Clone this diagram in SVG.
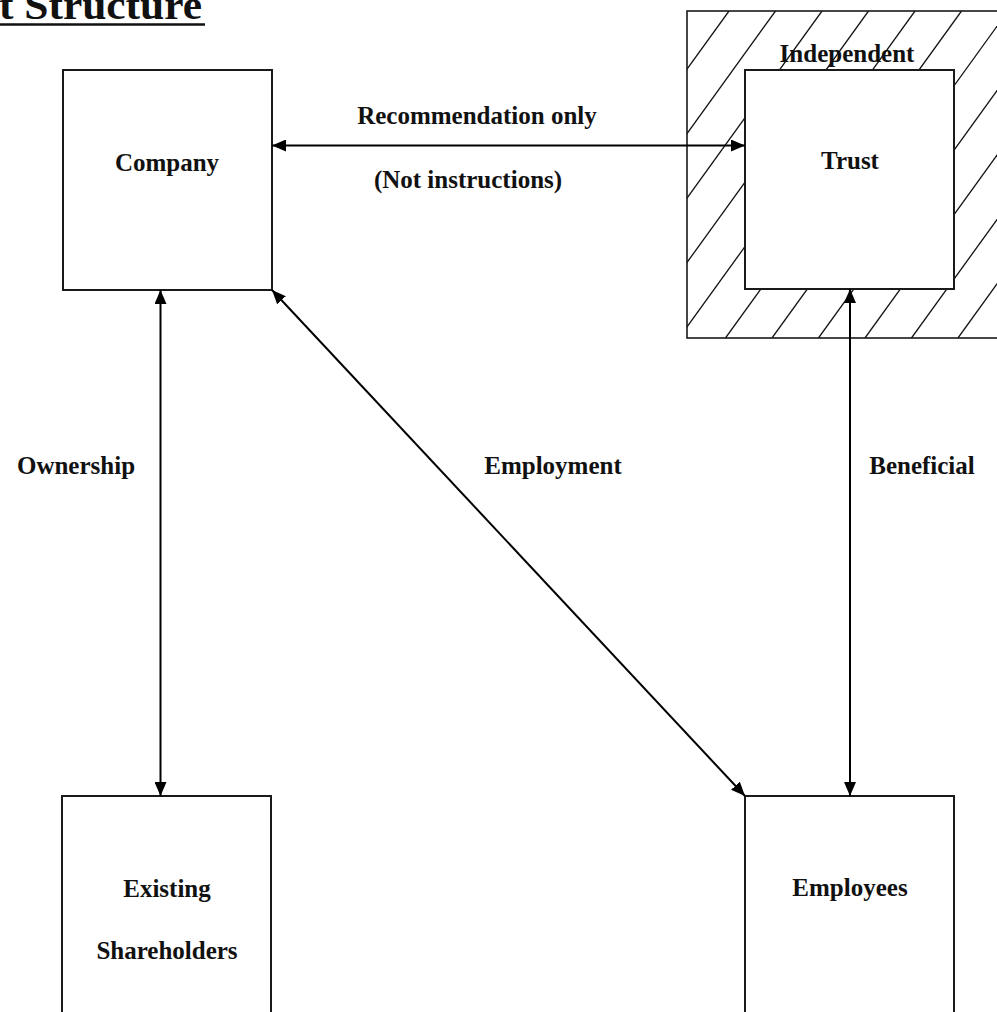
<svg xmlns="http://www.w3.org/2000/svg" width="997" height="1012" viewBox="0 0 997 1012">
<style>
.box{fill:#fff;stroke:#1a1a1a;stroke-width:2}
.lbl{font-family:"Liberation Serif","Times New Roman",serif;font-weight:bold;font-size:25px;fill:#111;text-anchor:middle}
.con{stroke:#000;stroke-width:2;fill:none}
.hatch{stroke:#111;stroke-width:1.3}
</style>
<defs>
<marker id="ah" viewBox="0 0 14 12" refX="14" refY="6" markerWidth="14" markerHeight="12" orient="auto-start-reverse" markerUnits="userSpaceOnUse">
<path d="M0,0 L14,6 L0,12 z" fill="#000"/>
</marker>
<clipPath id="hclip"><rect x="687" y="11" width="320" height="327"/></clipPath>
</defs>
<rect width="997" height="1012" fill="#fff"/>

<g id="title">
<text x="-1" y="19" font-family="'Liberation Serif','Times New Roman',serif" font-weight="bold" font-size="41" fill="#111" textLength="203" lengthAdjust="spacingAndGlyphs">t Structure</text>
<line x1="0" y1="24.5" x2="205" y2="24.5" stroke="#111" stroke-width="2.5"/>
</g>

<g id="independent">
<rect x="687" y="11" width="330" height="327" fill="#fff" stroke="#1a1a1a" stroke-width="1.6"/>
<g clip-path="url(#hclip)" class="hatch">
<line x1="729" y1="11" x2="493" y2="338"/>
<line x1="775.5" y1="11" x2="539.5" y2="338"/>
<line x1="822" y1="11" x2="586" y2="338"/>
<line x1="868.5" y1="11" x2="632.5" y2="338"/>
<line x1="915" y1="11" x2="679" y2="338"/>
<line x1="961.5" y1="11" x2="725.5" y2="338"/>
<line x1="1008" y1="11" x2="772" y2="338"/>
<line x1="1054.5" y1="11" x2="818.5" y2="338"/>
<line x1="1101" y1="11" x2="865" y2="338"/>
<line x1="1147.5" y1="11" x2="911.5" y2="338"/>
<line x1="1194" y1="11" x2="958" y2="338"/>
<line x1="1240.5" y1="11" x2="1004.5" y2="338"/>
</g>
<text class="lbl" x="847" y="62">Independent</text>
</g>

<g id="trust">
<rect class="box" x="745" y="70" width="209" height="219"/>
<text class="lbl" x="850" y="169">Trust</text>
</g>

<g id="company">
<rect class="box" x="63" y="70" width="209" height="220"/>
<text class="lbl" x="167" y="171">Company</text>
</g>

<g id="shareholders">
<rect class="box" x="62" y="796" width="209" height="240"/>
<text class="lbl" x="167" y="897">Existing</text>
<text class="lbl" x="167" y="959">Shareholders</text>
</g>

<g id="employees">
<rect class="box" x="745" y="796" width="209" height="240"/>
<text class="lbl" x="850" y="896">Employees</text>
</g>

<g id="connectors">
<line class="con" x1="272" y1="145.5" x2="745" y2="145.5" marker-start="url(#ah)" marker-end="url(#ah)"/>
<line class="con" x1="160.5" y1="290" x2="160.5" y2="796" marker-start="url(#ah)" marker-end="url(#ah)"/>
<line class="con" x1="272" y1="290" x2="745" y2="796" marker-start="url(#ah)" marker-end="url(#ah)"/>
<line class="con" x1="850" y1="289" x2="850" y2="796" marker-start="url(#ah)" marker-end="url(#ah)"/>
</g>

<g id="labels">
<text class="lbl" x="477" y="124">Recommendation only</text>
<text class="lbl" x="468" y="188">(Not instructions)</text>
<text class="lbl" x="76" y="474">Ownership</text>
<text class="lbl" x="553" y="474">Employment</text>
<text class="lbl" x="922" y="474">Beneficial</text>
</g>
</svg>
